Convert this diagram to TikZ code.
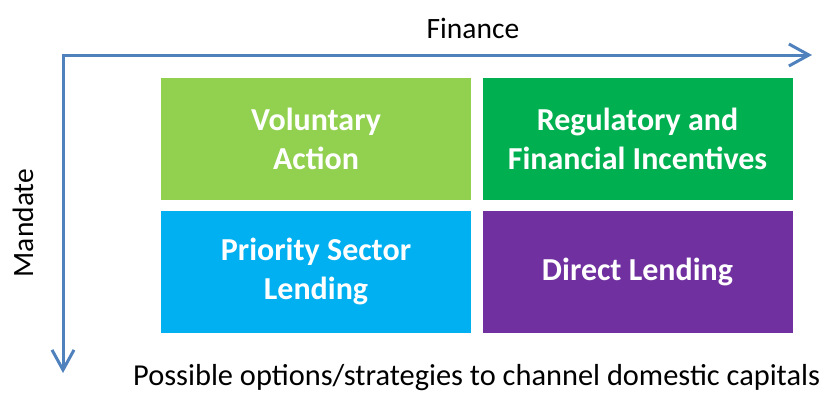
\documentclass[tikz,border=0pt]{standalone}
\usepackage{fontspec}
\setmainfont{Carlito}
\usetikzlibrary{arrows.meta}
\definecolor{axisblue}{RGB}{79,129,189}
\definecolor{lightgreen}{RGB}{146,208,80}
\definecolor{darkgreen}{RGB}{0,176,80}
\definecolor{skyblue}{RGB}{0,176,240}
\definecolor{violet}{RGB}{112,48,160}
\tikzset{
  quad/.style={minimum width=310pt, minimum height=122pt, inner sep=0pt, align=center,
    text=white, font=\fontsize{32}{39}\selectfont\bfseries},
  axis/.style={axisblue, line width=3pt, line join=miter,
    {Straight Barb[length=20pt,width=22pt,line width=3pt]}-{Straight Barb[length=20pt,width=22pt,line width=3pt]}},
  lbl/.style={anchor=base, inner sep=0pt, font=\fontsize{29.5}{35}\selectfont}
}
\begin{document}
\begin{tikzpicture}[x=1pt,y=-1pt]
\useasboundingbox (0,0) rectangle (825,392);

\coordinate (o) at (63,55);
\coordinate (fin) at (812,55);
\coordinate (man) at (63,373);
\draw [axis] (fin) -- (o) -- (man);

\node [quad, fill=lightgreen] (va) at (316,139) {Voluntary\\Action};
\node [quad, fill=darkgreen] (rf) at (637.5,139) {Regulatory and\\Financial Incentives};
\node [quad, fill=skyblue] (ps) at (316,271.5) {Priority Sector\\Lending};
\node [quad, fill=violet] (dl) at (637.5,271.5) {Direct Lending};

\node [lbl] (finance) at (473,38) {Finance};
\node [lbl, rotate=90] (mandate) at (33,223) {Mandate};
\node [lbl, anchor=base west, font=\fontsize{30.4}{36}\selectfont] (caption) at (133,385) {Possible options/strategies to channel domestic capitals};
\end{tikzpicture}
\end{document}
